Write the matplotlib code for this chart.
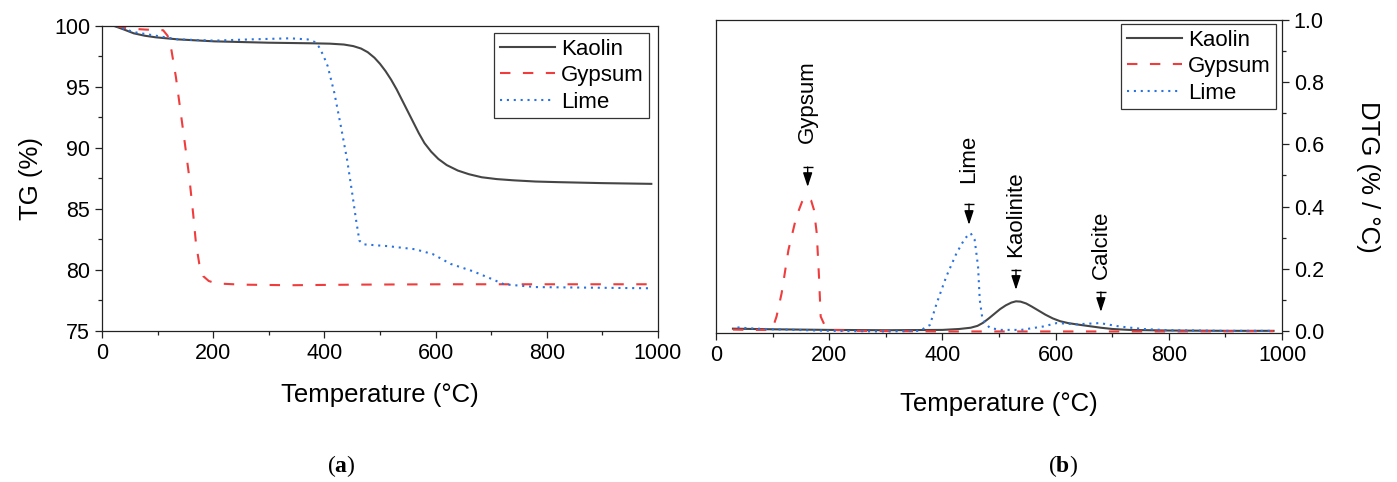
#!/usr/bin/env python3
import matplotlib
matplotlib.use("Agg")
import matplotlib.pyplot as plt
from matplotlib.ticker import MultipleLocator, FormatStrFormatter

plt.rcParams['font.family'] = ['Liberation Sans', 'DejaVu Sans']

# TG curves (%)
kaolin_tg_t = [22, 40, 57, 77, 97, 137, 202, 298, 378, 410, 435, 452, 466, 478, 490, 500, 510, 520, 530, 540, 550,
               560, 570, 580, 592, 605, 620, 640, 660, 683, 710, 740, 780, 820, 900, 988]
kaolin_tg = [100.0, 99.7, 99.4, 99.2, 99.07, 98.9, 98.74, 98.63, 98.58, 98.55, 98.48, 98.35, 98.15, 97.85, 97.4, 96.9,
             96.3, 95.6, 94.8, 93.9, 93.0, 92.1, 91.2, 90.4, 89.7, 89.1, 88.6, 88.15, 87.85, 87.6, 87.45, 87.35, 87.25,
             87.2, 87.12, 87.06]

gypsum_tg_t = [25, 45, 80, 110, 118, 125, 133, 141, 149, 157, 164, 169, 175, 182, 192, 205, 250, 338, 459, 619, 988]
gypsum_tg = [100.0, 99.8, 99.7, 99.65, 99.2, 98.0, 95.8, 93.1, 90.4, 87.6, 84.6, 82.2, 80.5, 79.5, 79.1, 78.9, 78.8,
             78.75, 78.8, 78.83, 78.83]

lime_tg_t = [25, 57, 137, 202, 266, 338, 370, 382, 390, 398, 406, 418, 430, 441, 450, 457, 463, 471, 515, 563, 595,
             627, 667, 699, 723, 780, 860, 988]
lime_tg = [100.0, 99.5, 98.9, 98.8, 98.9, 98.99, 98.9, 98.7, 98.3, 97.6, 96.7, 94.5, 91.7, 89.0, 86.3, 84.1, 82.4,
           82.1, 81.95, 81.7, 81.3, 80.5, 79.9, 79.3, 78.83, 78.6, 78.56, 78.5]

# DTG curves (% / °C)
kaolin_dtg_t = [30, 100, 200, 300, 400, 430, 450, 462, 472, 482, 492, 502, 512, 522, 530, 538, 548, 558, 570, 582,
                595, 608, 622, 640, 660, 680, 700, 730, 800, 900, 985]
kaolin_dtg = [0.007, 0.005, 0.003, 0.002, 0.003, 0.006, 0.01, 0.016, 0.026, 0.04, 0.055, 0.07, 0.082, 0.091, 0.095,
              0.094, 0.088, 0.078, 0.065, 0.052, 0.04, 0.031, 0.025, 0.02, 0.015, 0.01, 0.006, 0.003, 0.001, 0.0, 0.0]

gypsum_dtg_t = [30, 60, 90, 100, 107, 116, 128, 142, 152, 158, 163, 168, 173, 178, 182, 185, 193, 204, 250, 400, 600,
                800, 985]
gypsum_dtg = [0.004, 0.003, 0.003, 0.008, 0.046, 0.121, 0.26, 0.367, 0.415, 0.432, 0.43, 0.42, 0.39, 0.315, 0.175,
              0.046, 0.014, 0.003, 0.0, -0.002, -0.002, -0.002, -0.001]

lime_dtg_t = [38, 60, 100, 200, 300, 360, 378, 390, 407, 425, 440, 450, 457, 463, 466, 471, 484, 504, 539, 578, 602,
              637, 678, 713, 754, 800, 900, 985]
lime_dtg = [0.011, 0.008, 0.005, 0.0, -0.002, 0.0, 0.019, 0.089, 0.175, 0.25, 0.298, 0.314, 0.293, 0.207, 0.1, 0.035,
            0.009, 0.003, 0.003, 0.014, 0.025, 0.021, 0.025, 0.014, 0.006, 0.002, 0.0, 0.0]

# peak markers in panel (b)
peak_labels = ['Gypsum', 'Lime', 'Kaolinite', 'Calcite']
peak_temps = [162, 447, 530, 680]
arrow_tips = [0.463, 0.341, 0.132, 0.061]
arrow_tails = [0.527, 0.408, 0.196, 0.125]
label_bottoms = [0.605, 0.476, 0.238, 0.167]

series_names = ['Kaolin', 'Gypsum', 'Lime']
series_colors = ['#454545', '#f03c3c', '#2a72e0']
series_styles = ['-', (0, (5, 6)), (0, (1, 2.3))]

TICK_FS = 15.5
LABEL_FS = 18.5


def style_axis(ax):
    for sp in ax.spines.values():
        sp.set_linewidth(0.9)
        sp.set_color('#222222')
    ax.tick_params(which='major', direction='out', length=5, width=0.9, labelsize=TICK_FS, color='#222222')
    ax.tick_params(which='minor', direction='out', length=3, width=0.9, color='#222222')
    ax.set_xlim(0, 1000)
    ax.xaxis.set_major_locator(MultipleLocator(200))
    ax.xaxis.set_minor_locator(MultipleLocator(100))


def add_legend(ax, anchor):
    leg = ax.legend(loc='upper right', bbox_to_anchor=anchor, borderaxespad=0,
                    fontsize=16, handlelength=2.5, handletextpad=0.25,
                    labelspacing=0.25, borderpad=0.25, fancybox=False, framealpha=1)
    leg.get_frame().set_edgecolor('#333333')
    leg.get_frame().set_linewidth(0.9)


fig = plt.figure(figsize=(13.97, 4.82), dpi=100)

# (a) TG
ax1 = fig.add_axes([0.0730, 0.3133, 0.3980, 0.6328])
tg_data = [(kaolin_tg_t, kaolin_tg), (gypsum_tg_t, gypsum_tg), (lime_tg_t, lime_tg)]
for (t, v), name, c, ls in zip(tg_data, series_names, series_colors, series_styles):
    ax1.plot(t, v, color=c, linestyle=ls, lw=1.5, label=name)
style_axis(ax1)
ax1.set_ylim(75, 100)
ax1.yaxis.set_major_locator(MultipleLocator(5))
ax1.yaxis.set_minor_locator(MultipleLocator(2.5))
ax1.set_xlabel('Temperature (°C)', fontsize=LABEL_FS, labelpad=14)
ax1.set_ylabel('TG (%)', fontsize=LABEL_FS, labelpad=8)
add_legend(ax1, (0.9838, 0.977))

# (b) DTG
ax2 = fig.add_axes([0.5125, 0.3091, 0.4052, 0.6494])
dtg_data = [(kaolin_dtg_t, kaolin_dtg), (gypsum_dtg_t, gypsum_dtg), (lime_dtg_t, lime_dtg)]
for (t, v), name, c, ls in zip(dtg_data, series_names, series_colors, series_styles):
    ax2.plot(t, v, color=c, linestyle=ls, lw=1.5, label=name)
style_axis(ax2)
ax2.set_ylim(-0.007, 1.0)
ax2.yaxis.tick_right()
ax2.yaxis.set_label_position('right')
ax2.yaxis.set_major_locator(MultipleLocator(0.2))
ax2.yaxis.set_minor_locator(MultipleLocator(0.1))
ax2.yaxis.set_major_formatter(FormatStrFormatter('%.1f'))
ax2.set_xlabel('Temperature (°C)', fontsize=LABEL_FS, labelpad=19)
ax2.set_ylabel('DTG (% / °C)', fontsize=LABEL_FS, rotation=270, labelpad=40)
add_legend(ax2, (0.9894, 0.987))

for lab, t, tip, tail, bot in zip(peak_labels, peak_temps, arrow_tips, arrow_tails, label_bottoms):
    ax2.annotate('', xy=(t, tip), xytext=(t, tail),
                 arrowprops=dict(arrowstyle='-|>,head_length=0.85,head_width=0.28',
                                 color='black', lw=1.0, shrinkA=0, shrinkB=0, mutation_scale=10))
    ax2.plot([t], [tail], marker='_', ms=7, mew=1.0, color='black')
    ax2.text(t, bot, lab, rotation=90, ha='center', va='bottom', fontsize=16)

# sub-figure captions
cap_font = dict(family=['Liberation Serif', 'DejaVu Serif'], fontsize=17, ha='center', va='center')
plt.rcParams['mathtext.fontset'] = 'custom'
plt.rcParams['mathtext.bf'] = 'Liberation Serif:bold'
fig.text(341 / 1397, 1 - 466 / 482, r'($\mathbf{a}$)', **cap_font)
fig.text(1063 / 1397, 1 - 466 / 482, r'($\mathbf{b}$)', **cap_font)

fig.savefig('out.png', dpi=100)
plt.close(fig)
